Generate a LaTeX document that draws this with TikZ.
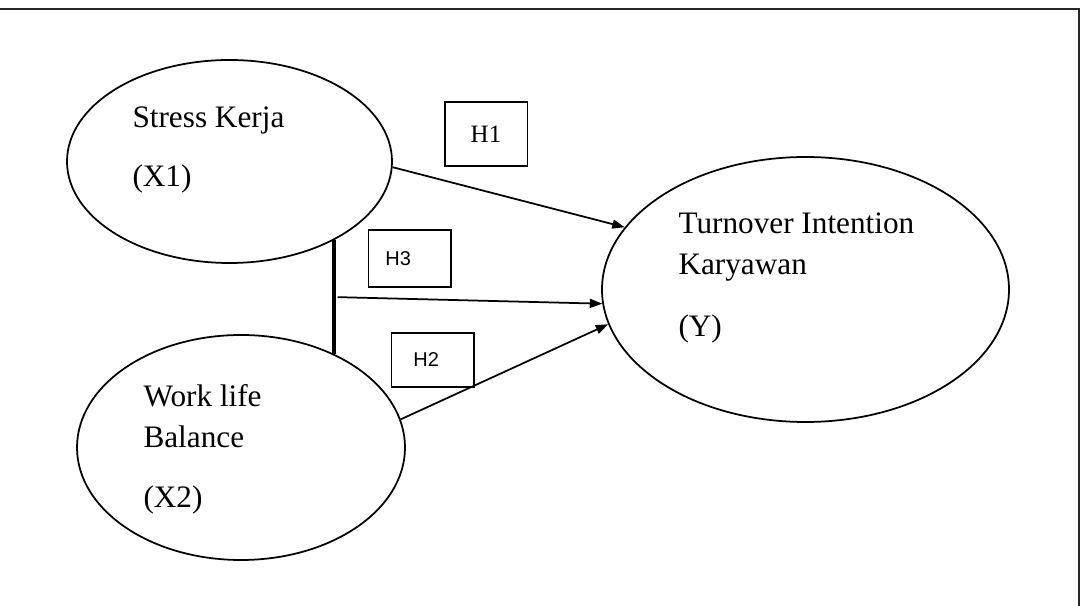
\documentclass[tikz,border=0pt]{standalone}
\usepackage{fontspec}
\setmainfont{Liberation Serif}
\newfontfamily\hsans{Liberation Sans}
\usetikzlibrary{arrows.meta,shapes.geometric}

\begin{document}
\begin{tikzpicture}[
    x=0.4pt, y=0.4pt,
    construct/.style={
      draw, ellipse, line width=0.7pt, inner sep=0pt
    },
    varname/.style={
      anchor=base west, align=left, inner sep=0pt,
      font=\fontsize{12.5}{16.4}\selectfont
    },
    hypbox/.style={
      draw, line width=0.6pt, inner sep=0pt, minimum width=33pt
    },
    link/.style={line width=0.7pt, -{Triangle[length=5pt,width=3.6pt]}},
    frame/.style={line width=1pt, black!85}
  ]
    \useasboundingbox (0,0) rectangle (1087,606);
    \draw[frame] (0,597) -- (1079,597) -- (1079,0);

    % latent variables
    \node[construct, minimum width=130pt, minimum height=81.2pt] (stress) at (229.5,444.5) {};
    \node[construct, minimum width=131.2pt, minimum height=90pt] (balance) at (241,158.5) {};
    \node[construct, minimum width=162.8pt, minimum height=106pt] (turnover) at (805.5,316.5) {};

    \node[varname] (stress text) at ([shift={(-97.5,-25.5)}]stress.center)
      {Stress Kerja\\[7.2pt](X1)};
    \node[varname] (balance text) at ([shift={(-98,-60.5)}]balance.center)
      {Work life\\Balance\\[7.6pt](X2)};
    \node[varname] (turnover text) at ([shift={(-127.5,-47.5)}]turnover.center)
      {Turnover Intention\\Karyawan\\[8.4pt](Y)};

    % hypotheses
    \node[hypbox, minimum height=25.6pt, font=\fontsize{10}{12}\selectfont] (h1) at (486,472) {H1};
    \node[hypbox, minimum height=22.8pt, font=\hsans\fontsize{8}{10}\selectfont] (h3) at (409.5,347.5) {H3\kern9pt};
    \node[hypbox, minimum height=21.6pt, font=\hsans\fontsize{8}{10}\selectfont] (h2) at (432.5,246) {H2\kern5pt};

    \draw[line width=1.6pt] (stress.-37) -- coordinate (fork) (stress.-37 |- balance.45);
    \draw[link] (stress.-2) -- (turnover.161);
    \draw[link] ([xshift=1.5pt]fork) -- (turnover.184);
    \draw[link] (balance.10) -- (turnover.190);
\end{tikzpicture}
\end{document}
